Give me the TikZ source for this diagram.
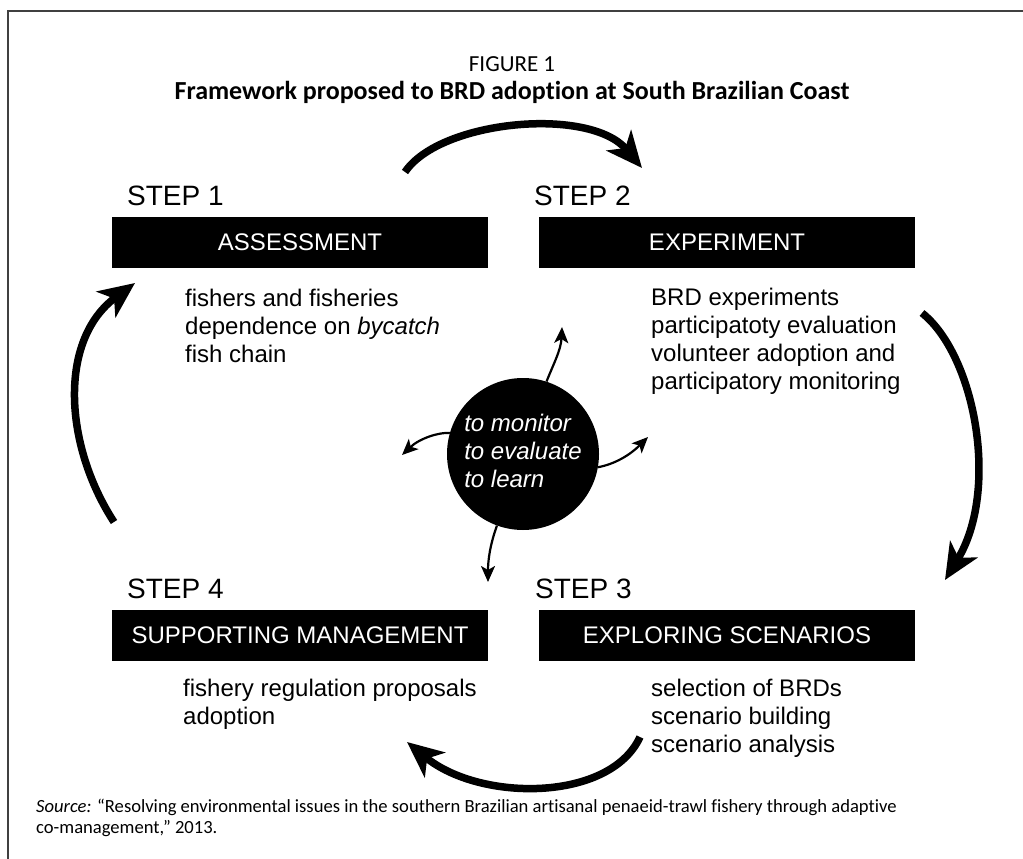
\documentclass[tikz,border=0pt]{standalone}
\usepackage{fontspec}
\setmainfont{Liberation Sans}
\newfontfamily\capfont[Ligatures=NoCommon]{Carlito}
\usetikzlibrary{arrows.meta}
\newcommand{\rows}[1]{\begin{tabular}[t]{@{}l@{}}#1\end{tabular}}
\begin{document}
\begin{tikzpicture}[x=1pt,y=-1pt,
  stepname/.style={anchor=base west, inner sep=0, font=\fontsize{28}{32}\selectfont},
  blackbox/.style={fill=black, text=white, minimum width=376pt, minimum height=51pt, inner sep=0, font=\fontsize{24}{28}\selectfont},
  bodytext/.style={anchor=base west, inner sep=0, font=\fontsize{24}{28.3}\selectfont},
  bigarrow/.style={line width=7.5pt, -{Stealth[length=36pt,width=32pt,inset=10pt]}},
  smallarrow/.style={line width=2.2pt, -{Stealth[length=16pt,width=14pt,inset=4pt]}},
  framecol/.style={draw=black!75, line width=2pt},
]
\useasboundingbox (0,0) rectangle (1023,859);
\draw[framecol] (8,859) -- (8,11) -- (1023,11);

\node[font=\capfont\fontsize{23}{27}\selectfont] (fig) at (512,64) {FIGURE 1};
\node[font=\capfont\bfseries\fontsize{26}{30}\selectfont] (title) at (512,92) {Framework proposed to BRD adoption at South Brazilian Coast};

% steps
\node[stepname] (s1) at (127,205) {STEP 1};
\node[stepname] (s2) at (534,205) {STEP 2};
\node[stepname] (s4) at (127,598) {STEP 4};
\node[stepname] (s3) at (535,598) {STEP 3};

\node[blackbox] (b1) at (300,242.5) {ASSESSMENT};
\node[blackbox] (b2) at (727,242.5) {EXPERIMENT};
\node[blackbox] (b4) at (300,635.5) {SUPPORTING MANAGEMENT};
\node[blackbox] (b3) at (727,635.5) {EXPLORING SCENARIOS};

\node[bodytext] (t1) at (185,306) {\rows{fishers and fisheries\\dependence on \textit{bycatch}\\fish chain}};
\node[bodytext] (t2) at (651,305) {\rows{BRD experiments\\participatoty evaluation\\volunteer adoption and\\participatory monitoring}};
\node[bodytext] (t4) at (183,696) {\rows{fishery regulation proposals\\adoption}};
\node[bodytext] (t3) at (651,696) {\rows{selection of BRDs\\scenario building\\scenario analysis}};

% hub
\node[circle, fill=black, minimum size=152pt, inner sep=0, text=white,
      font=\itshape\fontsize{24}{28.3}\selectfont] (hub) at (523,454)
      {\rows{to monitor\\to evaluate\\to learn}};

% big cycle arrows
\coordinate (a1s) at (405,172); \coordinate (a1e) at (642,168);
\coordinate (a2s) at (922,313); \coordinate (a2e) at (945,580);
\coordinate (a3s) at (640,737); \coordinate (a3e) at (407,742);
\coordinate (a4s) at (114,522); \coordinate (a4e) at (135,283);
\draw[bigarrow] (a1s) .. controls (440,120) and (590,106) .. (a1e);
\draw[bigarrow] (a2s) .. controls (975,355) and (1000,490) .. (a2e);
\draw[bigarrow] (a3s) .. controls (610,802) and (480,802) .. (a3e);
\draw[bigarrow] (a4s) .. controls (64,445) and (58,340) .. (a4e);

% small arrows from hub
\coordinate (upTip) at (562,327);
\coordinate (leftTip) at (402,455);
\coordinate (rightTip) at (648,437);
\coordinate (downTip) at (488,582);
\draw[smallarrow] (hub.72) .. controls (553,365) and (561,350) .. (upTip);
\draw[smallarrow] (hub.164) .. controls (440,432) and (420,438) .. (leftTip);
\draw[smallarrow] (hub.-10) .. controls (615,464) and (630,455) .. (rightTip);
\draw[smallarrow] (hub.-110) .. controls (490,545) and (488,560) .. (downTip);

% source
\node[anchor=base west, inner sep=0, font=\capfont\fontsize{18.6}{21.5}\selectfont] (src) at (36,812)
  {\rows{\textit{Source:} “Resolving environmental issues in the southern Brazilian artisanal penaeid-trawl fishery through adaptive\\co-management,” 2013.}};
\end{tikzpicture}
\end{document}
